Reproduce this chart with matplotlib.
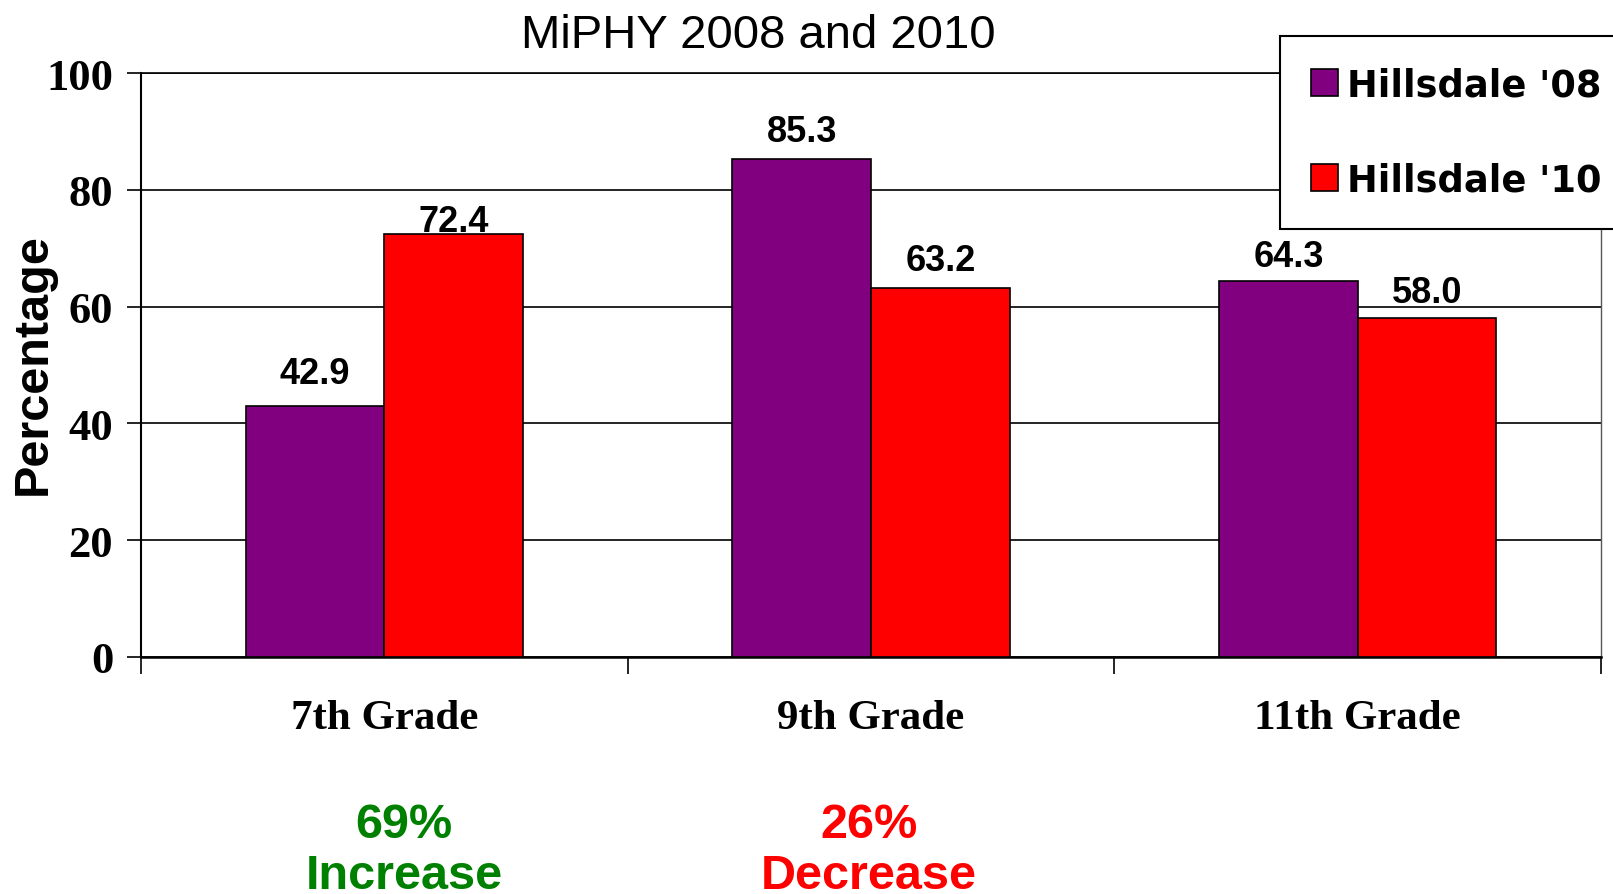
import matplotlib
matplotlib.use('Agg')
import matplotlib.pyplot as plt
import numpy as np

# data
grades = ['7th Grade', '9th Grade', '11th Grade']
hills_08 = [42.9, 85.3, 64.3]
hills_10 = [72.4, 63.2, 58.0]
series_names = ["Hillsdale '08", "Hillsdale '10"]
change_pct = ['69%', '26%']
change_word = ['Increase', 'Decrease']
change_col = ['#008000', '#FF0000']

purple = '#800080'
red = '#FF0000'
# label offsets above the bar tops (points), as placed in the original
off_08 = [17, 12.5, 11]
off_10 = [2, 13, 11.5]
# x centres (pixels) of the change notes
note_x = [404, 869]

W, H = 1613, 895
fig = plt.figure(figsize=(W / 100, H / 100), dpi=100)
ax = fig.add_axes([141 / W, 1 - 658 / H, 1460 / W, 584 / H])

x = np.arange(len(grades))
w = 0.285
b1 = ax.bar(x - w / 2, hills_08, w, color=purple, edgecolor='black', linewidth=1.2,
            label=series_names[0], zorder=3)
b2 = ax.bar(x + w / 2, hills_10, w, color=red, edgecolor='black', linewidth=1.2,
            label=series_names[1], zorder=3)

# value labels above bars
for bars, vals, offs in [(b1, hills_08, off_08), (b2, hills_10, off_10)]:
    for rect, v, o in zip(bars, vals, offs):
        ax.annotate(f'{v:.1f}', (rect.get_x() + rect.get_width() / 2, v),
                    xytext=(0, o), textcoords='offset points', ha='center', va='baseline',
                    fontsize=26, fontweight='bold', family='Liberation Sans', zorder=4)

ax.set_xlim(-0.5, len(grades) - 0.5)
ax.set_ylim(0, 100)
ax.set_yticks(range(0, 101, 20))
ax.yaxis.grid(True, color='black', linewidth=1.2, zorder=0)
ax.set_axisbelow(True)

# category labels at centres, tick marks at the boundaries
ax.set_xticks(x)
ax.set_xticklabels(grades, fontsize=31, fontweight='bold', family='Liberation Serif')
ax.tick_params(axis='x', which='major', length=0, pad=30.5)
ax.set_xticks(np.arange(-0.5, len(grades), 1.0), minor=True)
ax.tick_params(axis='x', which='minor', length=12, width=1.2, direction='out', color='black')

ax.tick_params(axis='y', length=10, width=1.2, direction='out', pad=10)
for lbl in ax.get_yticklabels():
    lbl.set_fontsize(32)
    lbl.set_fontweight('bold')
    lbl.set_family('Liberation Serif')

ax.spines['left'].set_linewidth(1.5)
ax.spines['bottom'].set_linewidth(1.8)
ax.spines['top'].set_linewidth(1.2)
ax.spines['right'].set_color('#555555')
ax.spines['right'].set_linewidth(1.0)

fig.text(33 / W, 1 - 364 / H, 'Percentage', rotation=90, ha='center', va='center',
         fontsize=35, fontweight='bold', family='Liberation Sans')

fig.text(758 / W, 1 - 48 / H, 'MiPHY 2008 and 2010', ha='center', va='baseline',
         fontsize=34, family='Liberation Sans')

leg = fig.legend(loc='upper right', bbox_to_anchor=(1632 / W, 1 - 37 / H),
                 prop={'family': 'DejaVu Sans', 'weight': 'bold', 'size': 26.5},
                 fancybox=False, frameon=True, edgecolor='black', framealpha=1,
                 handlelength=0.75, handleheight=0.75, handletextpad=0.25,
                 labelspacing=1.58, borderpad=0.82, borderaxespad=0)
leg.get_frame().set_linewidth(1.5)

# change notes under the first two groups
for nx, pct, word, col in zip(note_x, change_pct, change_word, change_col):
    fig.text(nx / W, 1 - 838 / H, pct, ha='center', va='baseline', fontsize=35,
             fontweight='bold', family='Liberation Sans', color=col)
    fig.text(nx / W, 1 - 889 / H, word, ha='center', va='baseline', fontsize=35,
             fontweight='bold', family='Liberation Sans', color=col)

fig.savefig('out.png', dpi=100)
